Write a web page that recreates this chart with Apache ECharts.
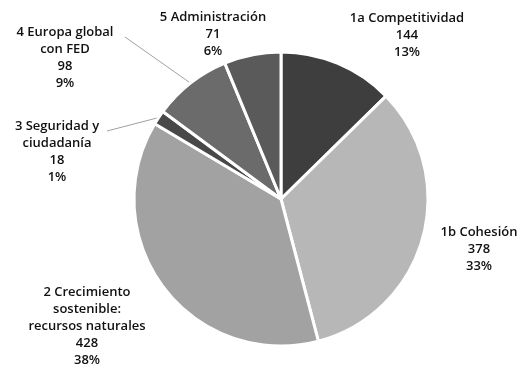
<!DOCTYPE html>
<html><head><meta charset="utf-8">
<script src="https://cdn.jsdelivr.net/npm/echarts@6/dist/echarts.min.js"></script>
<style>html,body{margin:0;padding:0;background:#fff}#c{width:524px;height:367px}</style>
</head><body><div id="c"></div>
<script>
var categories = ['1a Competitividad', '1b Cohesión', '2 Crecimiento\nsostenible:\nrecursos naturales', '3 Seguridad y\nciudadanía', '4 Europa global\ncon FED', '5 Administración'];
var values = [144, 378, 428, 18, 98, 71];
var percents = [13, 33, 38, 1, 9, 6];
var colors = ['#3e3e3e', '#b7b7b7', '#a2a2a2', '#484848', '#6b6b6b', '#5a5a5a'];
// label layout (text block centres) and label-line end points
var labelPos = [[407, 35], [479, 249], [87, 326], [57, 152], [65, 58], [213, 34]];
var lineEnd = [null, null, null, [107, 131], [125, 37], null];

var chart = echarts.init(document.getElementById('c'));
chart.setOption({
  animation: false,
  series: [{
    type: 'pie',
    center: [281, 199],
    radius: 147,
    startAngle: 90,
    clockwise: true,
    data: categories.map(function (c, i) {
      return {
        name: c, value: values[i],
        itemStyle: { color: colors[i] },
        labelLine: { show: lineEnd[i] != null }
      };
    }),
    itemStyle: { borderColor: '#ffffff', borderWidth: 3 },
    label: {
      show: true,
      fontFamily: 'Open Sans',
      fontSize: 13,
      fontWeight: 600,
      lineHeight: 17,
      color: '#111',
      align: 'center',
      overflow: 'none',
      width: 200,
      formatter: function (p) { return p.name + '\n' + values[p.dataIndex] + '\n' + percents[p.dataIndex] + '%'; }
    },
    labelLine: { lineStyle: { color: '#a0a0a0', width: 1 }, smooth: false },
    labelLayout: function (p) {
      var i = p.dataIndex;
      var out = { x: labelPos[i][0], y: labelPos[i][1], align: 'center', verticalAlign: 'middle', hideOverlap: false };
      if (lineEnd[i] && p.labelLinePoints) {
        var s = p.labelLinePoints[0];
        out.labelLinePoints = [[s[0], s[1]], [lineEnd[i][0], lineEnd[i][1]]];
      }
      return out;
    }
  }]
});
</script></body></html>
